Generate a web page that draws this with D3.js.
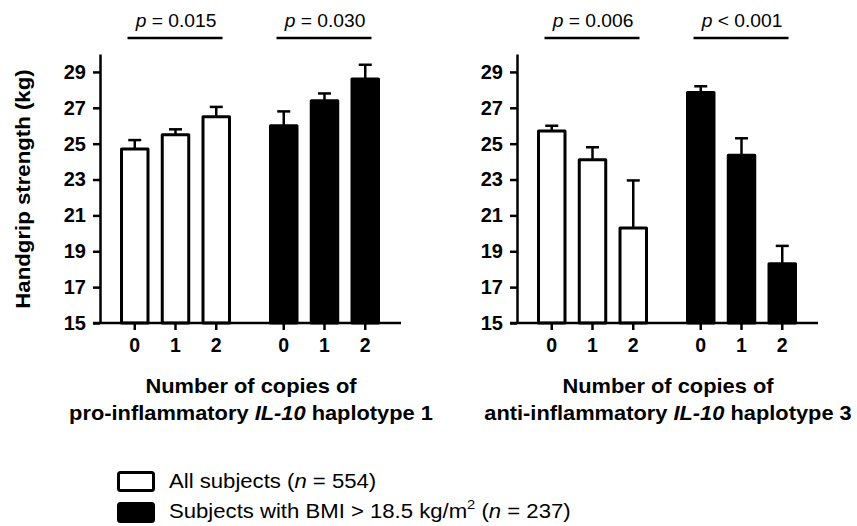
<!DOCTYPE html>
<html>
<head>
<meta charset="utf-8">
<script src="https://cdn.jsdelivr.net/npm/d3@7"></script>
<style>
  body { margin: 0; background: #fff; }
  svg { font-family: "Liberation Sans", Arial, sans-serif; }
</style>
</head>
<body>
<div id="chart"></div>
<script>
// values (mean and upper error, kg)
let copies = ["0", "1", "2"]
let groups = ["all", "bmi"]
let y_ticks = [15, 17, 19, 21, 23, 25, 27, 29]

let hap1_all_mean = [24.7, 25.5, 26.5]
let hap1_all_err = [0.5, 0.3, 0.55]
let hap1_bmi_mean = [26.0, 27.4, 28.6]
let hap1_bmi_err = [0.8, 0.4, 0.8]

let hap3_all_mean = [25.7, 24.1, 20.3]
let hap3_all_err = [0.3, 0.7, 2.65]
let hap3_bmi_mean = [27.85, 24.35, 18.3]
let hap3_bmi_err = [0.35, 0.95, 1.0]

let hap1_p = [["=", "0.015"], ["=", "0.030"]]
let hap3_p = [["=", "0.006"], ["<", "0.001"]]

let panels = [
    {dx: 100, title: ["pro-inflammatory ", "IL-10", " haplotype 1"],
     means: [hap1_all_mean, hap1_bmi_mean], errs: [hap1_all_err, hap1_bmi_err], p: hap1_p},
    {dx: 517, title: ["anti-inflammatory ", "IL-10", " haplotype 3"],
     means: [hap3_all_mean, hap3_bmi_mean], errs: [hap3_all_err, hap3_bmi_err], p: hap3_p}
]

let w = 857, h = 526
let fills = {all: "#fff", bmi: "#000"}
// the original lettering is a bit wider than Liberation Sans
let stretch = 1.12

let svg = d3.select("#chart").append("svg")
    .attr("width", w)
    .attr("height", h)

let y = d3.scaleLinear().domain([15, 30]).range([323, 54])
let x0 = d3.scalePoint().domain(groups).range([75.5, 224.5])
let x1 = d3.scaleBand().domain(copies).range([-54, 54]).paddingInner(0.35)

function draw_panel(p) {
    let g = svg.append("g").attr("transform", `translate(${p.dx}, 0)`)

    groups.forEach((grp, gi) => {
        let data = copies.map((c, i) => ({c: c, m: p.means[gi][i], e: p.errs[gi][i]}))
        let gg = g.append("g").attr("transform", `translate(${x0(grp)}, 0)`)

        gg.selectAll(".err")
            .data(data)
            .enter()
            .append("line")
            .attr("x1", d => x1(d.c) + x1.bandwidth() / 2)
            .attr("x2", d => x1(d.c) + x1.bandwidth() / 2)
            .attr("y1", d => y(d.m))
            .attr("y2", d => y(d.m + d.e))
            .attr("stroke", "#000")
            .attr("stroke-width", 2.5)
        gg.selectAll(".cap")
            .data(data)
            .enter()
            .append("line")
            .attr("x1", d => x1(d.c) + x1.bandwidth() / 2 - 6.5)
            .attr("x2", d => x1(d.c) + x1.bandwidth() / 2 + 6.5)
            .attr("y1", d => y(d.m + d.e))
            .attr("y2", d => y(d.m + d.e))
            .attr("stroke", "#000")
            .attr("stroke-width", 2.5)

        gg.selectAll("rect")
            .data(data)
            .enter()
            .append("rect")
            .attr("x", d => x1(d.c))
            .attr("y", d => y(d.m))
            .attr("width", x1.bandwidth())
            .attr("height", d => y(15) - y(d.m))
            .attr("fill", fills[grp])
            .attr("stroke", "#000")
            .attr("stroke-width", 3)
            .attr("stroke-linejoin", "round")

        // x ticks, one axis per group
        let ax = gg.append("g")
            .attr("transform", `translate(0, ${y(15)})`)
            .call(d3.axisBottom(x1).tickSize(7).tickSizeOuter(0).tickPadding(8))
        ax.select(".domain").remove()
        ax.selectAll("line").attr("stroke-width", 2.5)
        ax.selectAll("text")
            .attr("font-size", 19.5)
            .attr("font-weight", "bold")
            .attr("font-family", "Liberation Sans, Arial, sans-serif")
            .attr("fill", "#000")

        // significance bar
        gg.append("line")
            .attr("x1", -48).attr("x2", 47)
            .attr("y1", 38).attr("y2", 38)
            .attr("stroke", "#000")
            .attr("stroke-width", 2.5)
        let pt = gg.append("text")
            .attr("transform", "translate(0.5, 27) scale(1.04, 1)")
            .attr("text-anchor", "middle")
            .attr("font-size", 18.5)
        pt.append("tspan").attr("font-style", "italic").text("p")
        pt.append("tspan").text(` ${p.p[gi][0]} ${p.p[gi][1]}`)
    })

    // x axis line
    g.append("line")
        .attr("x1", -7).attr("x2", 301)
        .attr("y1", y(15)).attr("y2", y(15))
        .attr("stroke", "#000")
        .attr("stroke-width", 2.5)

    // y axis
    let ay = g.append("g")
        .call(d3.axisLeft(y).tickValues(y_ticks).tickSize(7).tickSizeOuter(0).tickPadding(7))
    ay.select(".domain").attr("stroke-width", 2.5)
    ay.selectAll("line").attr("stroke-width", 2.5)
    ay.selectAll("text")
        .attr("font-size", 20)
        .attr("font-weight", "bold")
        .attr("font-family", "Liberation Sans, Arial, sans-serif")
        .attr("fill", "#000")

    // x title
    let t = g.append("text")
        .attr("transform", `translate(151, 0) scale(${stretch}, 1)`)
        .attr("text-anchor", "middle")
        .attr("font-size", 19.5)
        .attr("font-weight", "bold")
    t.append("tspan").attr("x", 0).attr("y", 393).text("Number of copies of")
    let t2 = t.append("tspan").attr("x", 0).attr("y", 420)
    t2.append("tspan").text(p.title[0])
    t2.append("tspan").attr("font-style", "italic").text(p.title[1])
    t2.append("tspan").text(p.title[2])
}

panels.forEach(draw_panel)

svg.append("text")
    .attr("transform", `translate(29.5, 189) rotate(-90) scale(${stretch + 0.02}, 1)`)
    .attr("text-anchor", "middle")
    .attr("font-size", 19.5)
    .attr("font-weight", "bold")
    .text("Handgrip strength (kg)")

// legend
let legend_rows = [
    {fill: "#fff", label: [["All subjects (", ""], ["n", "i"], [" = 554)", ""]]},
    {fill: "#000", label: [["Subjects with BMI > 18.5 kg/m", ""], ["2", "s"], [" (", "d"], ["n", "i"], [" = 237)", ""]]}
]
let lg = svg.append("g")
lg.selectAll("rect")
    .data(legend_rows)
    .enter()
    .append("rect")
    .attr("x", 118.5)
    .attr("y", (d, i) => 472.5 + i * 31)
    .attr("width", 35)
    .attr("height", 18)
    .attr("rx", 2)
    .attr("fill", d => d.fill)
    .attr("stroke", "#000")
    .attr("stroke-width", 3)
lg.selectAll("text")
    .data(legend_rows)
    .enter()
    .append("text")
    .attr("transform", (d, i) => `translate(169, ${488 + i * 29.5}) scale(${stretch + 0.015}, 1)`)
    .attr("font-size", 19.5)
    .each(function(d) {
        let el = d3.select(this)
        d.label.forEach(part => {
            let s = el.append("tspan").text(part[0])
            if (part[1] == "i") s.attr("font-style", "italic")
            if (part[1] == "s") s.attr("font-size", 13).attr("dy", -9)
            if (part[1] == "d") s.attr("dy", 9)
        })
    })
</script>
</body>
</html>
